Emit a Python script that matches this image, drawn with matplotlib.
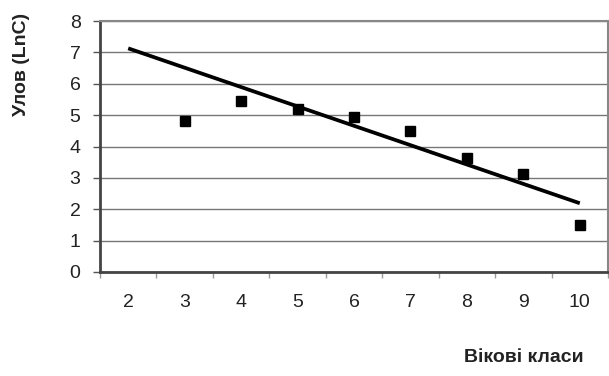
import numpy as np
import matplotlib
matplotlib.use('Agg')
import matplotlib.pyplot as plt

plt.rcParams['font.family'] = ['Liberation Sans', 'DejaVu Sans']

# age classes on the x axis (category axis, labels between ticks)
age_classes = [2, 3, 4, 5, 6, 7, 8, 9, 10]
# observed ln(catch) per age class (no point for class 2)
point_classes = [3, 4, 5, 6, 7, 8, 9, 10]
ln_catch = [4.8, 5.45, 5.18, 4.93, 4.5, 3.62, 3.12, 1.5]
# classes used for the descending-limb regression
fit_classes = [4, 5, 6, 7, 8, 9, 10]

fig = plt.figure(figsize=(6.09, 3.76), dpi=100)
ax = fig.add_axes([100 / 609, 1 - 272 / 376, 508 / 609, 251 / 376])

pos = {c: i for i, c in enumerate(age_classes)}
px = [pos[c] for c in point_classes]
ax.plot(px, ln_catch, 's', color='black', markersize=6.5, zorder=3)

fit_y = [ln_catch[point_classes.index(c)] for c in fit_classes]
slope, icept = np.polyfit(fit_classes, fit_y, 1)
ends = [age_classes[0], age_classes[-1]]
ax.plot([pos[c] for c in ends], [slope * c + icept for c in ends],
        color='black', lw=2.7, solid_capstyle='butt', zorder=2)

ax.set_xlim(-0.5, len(age_classes) - 0.5)
ax.set_ylim(0, 8)
ax.set_yticks(range(0, 9))
ax.set_xticks(range(len(age_classes)))
ax.set_xticklabels([str(c) for c in age_classes])
ax.set_xticks(np.arange(-0.5, len(age_classes), 1), minor=True)
ax.tick_params(axis='x', which='major', length=0, pad=16, labelsize=14,
               labelcolor='#222222')
ax.tick_params(axis='x', which='minor', length=4, color='#999999', width=1)
ax.tick_params(axis='y', length=5, color='#555555', width=1, pad=9, labelsize=14,
               labelcolor='#222222')

ax.yaxis.grid(True, color='#777777', lw=1)
ax.set_axisbelow(True)
for s in ['left', 'bottom']:
    ax.spines[s].set_color('#444444')
    ax.spines[s].set_linewidth(2)
for s in ['top', 'right']:
    ax.spines[s].set_color('#888888')
    ax.spines[s].set_linewidth(1.5)

fig.text(22 / 609, 1 - 64 / 376, 'Улов (LnC)', rotation=90, ha='center',
         va='center', fontsize=14, fontweight='bold', color='#222222')
fig.text(524 / 609, 1 - 357 / 376, 'Вікові класи', ha='center',
         va='center', fontsize=14, fontweight='bold', color='#222222')

fig.savefig('out.png', dpi=100)
